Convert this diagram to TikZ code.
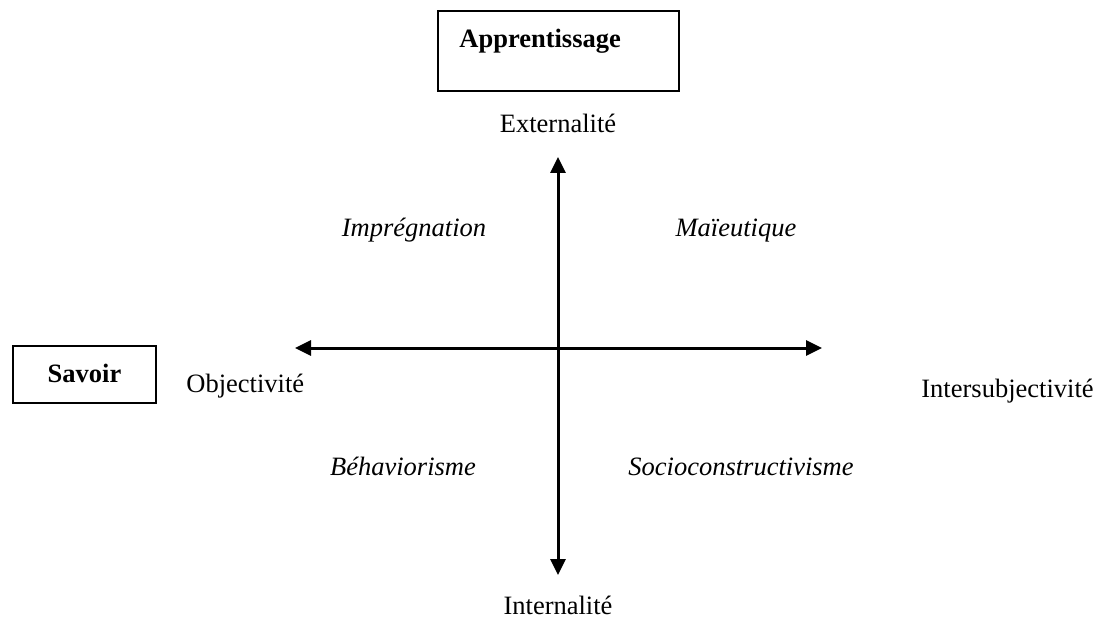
\documentclass[tikz,border=0pt]{standalone}
\usepackage{fontspec}
\setmainfont{Liberation Serif}
\usetikzlibrary{arrows.meta}
\begin{document}
\begin{tikzpicture}[x=0.5pt,y=-0.5pt,
  txt/.style={font=\fontsize{13.25}{16}\selectfont, inner sep=0pt},
  lbl/.style={txt, font=\fontsize{13.25}{16}\selectfont\itshape},
  boxst/.style={draw, line width=1pt, inner sep=0pt},
  axis/.style={line width=1.5pt, {Triangle[length=8pt,width=7.5pt]}-{Triangle[length=8pt,width=7.5pt]}}]
\useasboundingbox (0,0) rectangle (1097,620);
% boxes
\node[boxst, minimum width=120.5pt, minimum height=39.7pt] (appbox) at (558.5,51) {};
\node[txt, font=\fontsize{13.25}{16}\selectfont\bfseries, anchor=base west] (app) at (459,48) {Apprentissage};
\node[boxst, minimum width=71.6pt, minimum height=28.6pt] (savbox) at (84.5,374.5) {};
\node[txt, font=\fontsize{13.25}{16}\selectfont\bfseries, anchor=base] (sav) at (savbox.center |- 0,382) {Savoir};
% axis ends
\coordinate (top) at (558,157);
\coordinate (bot) at (558,575);
\coordinate (left) at (295,348);
\coordinate (right) at (822,348);
\draw[axis] (bot) -- (top);
\draw[axis] (left) -- (right);
% axis labels
\node[txt, anchor=base] (ext) at (558,133) {Externalité};
\node[txt, anchor=base] (int) at (558,614) {Internalité};
\node[txt, anchor=base west] (obj) at (186,392) {Objectivité};
\node[txt, anchor=base west] (inter) at (921,397) {Intersubjectivité};
% quadrant labels
\node[lbl, anchor=base] (impr) at (414,237) {Imprégnation};
\node[lbl, anchor=base] (maie) at (736,237) {Maïeutique};
\node[lbl, anchor=base] (behav) at (403,475) {Béhaviorisme};
\node[lbl, anchor=base] (socio) at (741,475) {Socioconstructivisme};
\end{tikzpicture}
\end{document}
